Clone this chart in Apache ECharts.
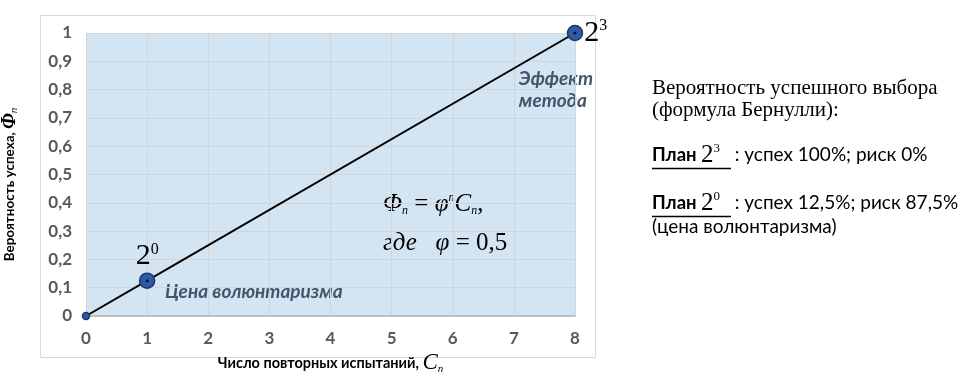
<!DOCTYPE html>
<html>
<head>
<meta charset="utf-8">
<script src="https://cdn.jsdelivr.net/npm/echarts@6/dist/echarts.min.js"></script>
<style>
  html, body { margin: 0; padding: 0; background: #fff; }
  #chart { width: 965px; height: 380px; }
</style>
</head>
<body>
<div id="chart"></div>
<script>
// число повторных испытаний C_n и вероятность успеха Ф_n
const trials = [0, 1, 8]
const success = [0, 0.125, 1]
const pointTags = ['', '0', '3']
const xTicks = [0, 1, 2, 3, 4, 5, 6, 7, 8]

const sans = 'Lato, "Open Sans", sans-serif'
const serif = '"Liberation Serif", "DejaVu Serif", serif'
const tickColor = '#595959'
const noteColor = '#44546A'

const chart = echarts.init(document.getElementById('chart'))

const lineData = trials.map((x, i) => ({
  value: [x, success[i]],
  symbolSize: i === 0 ? 7 : 15,
  label: {
    show: pointTags[i] !== '',
    position: i === 2 ? 'right' : 'top',
    distance: i === 2 ? 1 : 0,
    formatter: '{b|2}{s|' + pointTags[i] + '}'
  }
}))

const dotData = trials.map((x, i) => [x, success[i]]).slice(1)

chart.setOption({
  backgroundColor: '#fff',
  animation: false,
  grid: {
    left: 86,
    right: 390,
    top: 33,
    bottom: 64,
    show: true,
    backgroundColor: '#D3E4F3',
    borderWidth: 0,
    containLabel: false,
    outerBoundsMode: 'none'
  },
  xAxis: {
    type: 'value',
    min: xTicks[0],
    max: xTicks[xTicks.length - 1],
    interval: 1,
    name: '{t|Число повторных испытаний, }{c|C}{n|n}',
    nameLocation: 'middle',
    nameGap: 32,
    nameTextStyle: {
      rich: {
        t: { fontFamily: sans, fontWeight: 'bold', fontSize: 14.5, color: '#000' },
        c: { fontFamily: serif, fontStyle: 'italic', fontSize: 23, color: '#000' },
        n: { fontFamily: serif, fontStyle: 'italic', fontSize: 11, color: '#000', padding: [11, 0, 0, 0] }
      }
    },
    axisLine: { show: true, lineStyle: { color: '#BFBFBF', width: 2 } },
    axisTick: { show: false },
    axisLabel: {
      margin: 14,
      fontFamily: sans,
      fontWeight: 'bold',
      fontSize: 17,
      color: tickColor
    },
    splitLine: { show: true, lineStyle: { color: '#D4D4D4', width: 1 } }
  },
  yAxis: {
    type: 'value',
    min: 0,
    max: 1,
    interval: 0.1,
    name: '{t|Вероятность успеха, }{f|Φ}{n|n}',
    nameLocation: 'middle',
    nameGap: 66,
    nameTextStyle: {
      rich: {
        t: { fontFamily: sans, fontWeight: 'bold', fontSize: 13.5, color: '#000' },
        f: { fontFamily: serif, fontStyle: 'italic', fontWeight: 'bold', fontSize: 20, color: '#000' },
        n: { fontFamily: serif, fontStyle: 'italic', fontSize: 11, color: '#000', padding: [9, 20, 0, 0] }
      }
    },
    axisLine: { show: true, lineStyle: { color: '#D4D4D4', width: 1 } },
    axisTick: { show: false },
    axisLabel: {
      margin: 14,
      fontFamily: sans,
      fontWeight: 'bold',
      fontSize: 17,
      color: tickColor,
      formatter: v => String(Math.round(v * 10) / 10).replace('.', ',')
    },
    splitLine: { show: true, lineStyle: { color: '#D4D4D4', width: 1 } }
  },
  series: [
    {
      type: 'line',
      data: lineData,
      symbol: 'circle',
      lineStyle: { color: '#000', width: 2 },
      itemStyle: { color: '#2F5AA8', borderColor: '#1F3864', borderWidth: 1.5 },
      label: {
        rich: {
          b: { fontFamily: serif, fontSize: 30, color: '#000', lineHeight: 32 },
          s: { fontFamily: serif, fontSize: 16, color: '#000', lineHeight: 32, padding: [0, 0, 14, 0] }
        }
      },
      z: 3
    },
    {
      type: 'scatter',
      data: dotData,
      symbol: 'circle',
      symbolSize: 3,
      itemStyle: { color: '#000' },
      z: 4
    }
  ],
  graphic: [
    {
      type: 'rect',
      shape: { x: 40.5, y: 15.5, width: 555, height: 342 },
      style: { fill: 'none', stroke: '#D9D9D9', lineWidth: 1 },
      z: -1
    },
    {
      type: 'text',
      left: 165, top: 282,
      style: { text: 'Цена волюнтаризма', font: 'italic bold 19px ' + sans, fill: noteColor }
    },
    {
      type: 'text',
      right: 372, top: 68,
      style: { text: 'Эффект\nметода', font: 'italic bold 19px ' + sans, fill: noteColor, align: 'right', lineHeight: 22 }
    },
    {
      type: 'text',
      left: 383, top: 192,
      style: {
        text: '{f|Φ}{n|n}{e| = }{p|φ}{m|n}{f|C}{n|n}{e|,}',
        rich: {
          f: { fontFamily: serif, fontStyle: 'italic', fontSize: 25, fill: '#000' },
          p: { fontFamily: serif, fontStyle: 'italic', fontSize: 25, fill: '#000' },
          e: { fontFamily: serif, fontSize: 25, fill: '#000' },
          n: { fontFamily: serif, fontStyle: 'italic', fontSize: 12, fill: '#000', padding: [13, 0, 0, 0] },
          m: { fontFamily: serif, fontStyle: 'italic', fontSize: 12, fill: '#000', padding: [0, 0, 13, 0] }
        }
      }
    },
    {
      type: 'text',
      left: 383, top: 231,
      style: {
        text: '{i|где   φ}{e| = 0,5}',
        rich: {
          i: { fontFamily: serif, fontStyle: 'italic', fontSize: 25, fill: '#000' },
          e: { fontFamily: serif, fontSize: 25, fill: '#000' }
        }
      }
    },
    {
      type: 'text',
      left: 652, top: 77,
      style: {
        text: 'Вероятность успешного выбора\n(формула Бернулли):',
        font: '21px ' + serif,
        fill: '#000',
        lineHeight: 22
      }
    },
    {
      type: 'text',
      left: 652, top: 142,
      style: {
        text: '{b|План }{t|2}{s|3}{r|   : успех 100%; риск 0%}',
        rich: {
          b: { fontFamily: sans, fontWeight: 'bold', fontSize: 18.5, fill: '#000' },
          t: { fontFamily: serif, fontSize: 25, fill: '#000' },
          s: { fontFamily: serif, fontSize: 13, fill: '#000', padding: [0, 0, 13, 0] },
          r: { fontFamily: sans, fontSize: 19, fill: '#000' }
        }
      }
    },
    {
      type: 'text',
      left: 652, top: 190,
      style: {
        text: '{b|План }{t|2}{s|0}{r|   : успех 12,5%; риск 87,5%}\n{r|(цена волюнтаризма)}',
        rich: {
          b: { fontFamily: sans, fontWeight: 'bold', fontSize: 18.5, fill: '#000' },
          t: { fontFamily: serif, fontSize: 25, fill: '#000' },
          s: { fontFamily: serif, fontSize: 13, fill: '#000', padding: [0, 0, 13, 0] },
          r: { fontFamily: sans, fontSize: 19, fill: '#000', lineHeight: 22 }
        }
      }
    },
    {
      type: 'line',
      shape: { x1: 652, y1: 168.5, x2: 731, y2: 168.5 },
      style: { stroke: '#000', lineWidth: 1.5 }
    },
    {
      type: 'line',
      shape: { x1: 652, y1: 216.5, x2: 731, y2: 216.5 },
      style: { stroke: '#000', lineWidth: 1.5 }
    }
  ]
})
</script>
</body>
</html>
